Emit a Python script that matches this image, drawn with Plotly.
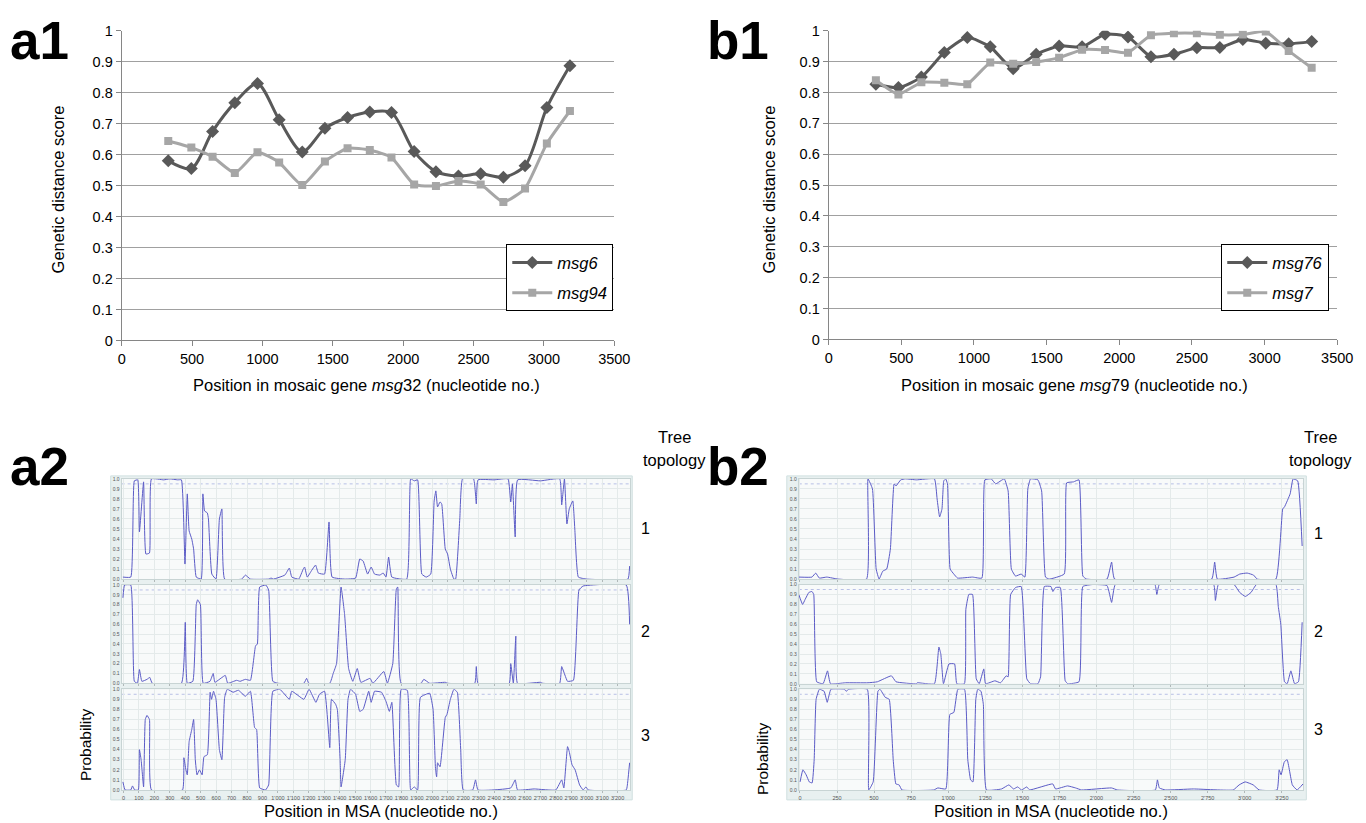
import plotly.graph_objects as go

W, H = 1366, 823
S = 1.012  # small global position correction

# ---------------- data: top charts ----------------
A1_X = [331, 495, 646, 804, 965, 1119, 1283, 1444, 1605, 1763, 1917, 2078, 2233, 2393, 2551, 2712, 2866, 3021, 3185]
A1_MSG6 = [0.580, 0.555, 0.675, 0.768, 0.830, 0.713, 0.609, 0.685, 0.720, 0.738, 0.736, 0.610, 0.545, 0.531, 0.538, 0.527, 0.564, 0.752, 0.887]
A1_MSG94 = [0.644, 0.623, 0.593, 0.541, 0.608, 0.575, 0.502, 0.578, 0.621, 0.615, 0.591, 0.504, 0.499, 0.515, 0.504, 0.447, 0.491, 0.636, 0.741]

B1_X = [325, 480, 638, 796, 954, 1112, 1270, 1428, 1586, 1744, 1902, 2060, 2218, 2376, 2534, 2692, 2850, 3008, 3166, 3324]
B1_MSG76 = [0.827, 0.816, 0.850, 0.930, 0.978, 0.948, 0.877, 0.924, 0.951, 0.948, 0.989, 0.980, 0.916, 0.924, 0.945, 0.946, 0.972, 0.960, 0.958, 0.965]
B1_MSG7 = [0.840, 0.794, 0.833, 0.832, 0.827, 0.897, 0.893, 0.899, 0.913, 0.939, 0.938, 0.929, 0.986, 0.992, 0.992, 0.987, 0.988, 0.998, 0.935, 0.880]

Y_TICKS_TOP = [0, 0.1, 0.2, 0.3, 0.4, 0.5, 0.6, 0.7, 0.8, 0.9, 1]
X_TICKS_TOP = [0, 500, 1000, 1500, 2000, 2500, 3000, 3500]

# ---------------- data: probability panels (x, y) ----------------
A2_T1 = [(-4,0.02),(47,0.02),(70,0.98),(92,0.99),(103,0.47),(130,0.97),(145,0.25),(168,0.26),(181,1.0),(260,0.99),(300,1.0),(350,0.99),(375,0.99),(398,0.15),(413,0.85),(425,0.48),(442,0.40),(454,0.30),(471,0.02),(503,0.0),(514,0.85),(525,0.68),(543,0.66),(550,0.60),(572,0.05),(599,0.0),(621,0.60),(637,0.70),(655,0.0),(766,0.0),(789,0.04),(822,0.0),(940,0.0),(956,0.01),(970,0.0),(1045,0.04),(1074,0.11),(1090,0.02),(1135,0.0),(1164,0.10),(1173,0.12),(1190,0.02),(1220,0.09),(1244,0.14),(1262,0.06),(1302,0.05),(1331,0.57),(1351,0.02),(1436,0.0),(1503,0.01),(1530,0.20),(1552,0.18),(1581,0.05),(1604,0.12),(1626,0.05),(1660,0.04),(1682,0.06),(1700,0.02),(1717,0.22),(1738,0.02),(1834,0.0),(1860,1.0),(1883,0.98),(1905,0.99),(1932,0.05),(1961,0.02),(1990,0.05),(2012,0.78),(2023,0.88),(2034,0.72),(2050,0.77),(2061,0.75),(2084,0.30),(2099,0.25),(2117,0.10),(2140,0.0),(2151,0.0),(2178,0.60),(2196,1.0),(2267,1.0),(2285,0.75),(2296,0.99),(2400,0.99),(2490,1.0),(2508,0.77),(2519,0.95),(2537,0.42),(2553,0.99),(2700,0.98),(2825,1.0),(2838,0.74),(2856,1.0),(2872,0.55),(2887,0.70),(2910,0.78),(2923,0.50),(2946,0.02),(3000,0.0),(3267,0.0),(3278,0.13)]
A2_T2 = [(-4,0.87),(7,1.0),(47,1.0),(70,0.02),(90,0.0),(103,0.14),(119,0.02),(152,0.04),(170,0.06),(186,0.0),(375,0.0),(400,0.62),(413,0.0),(449,0.02),(471,0.80),(480,0.85),(498,0.80),(516,0.0),(560,0.02),(581,0.10),(592,0.01),(659,0.08),(675,0.0),(733,0.03),(755,0.02),(789,0.04),(822,0.03),(855,0.38),(867,0.40),(882,0.98),(922,1.0),(940,0.95),(967,0.02),(1000,0.0),(1168,0.0),(1186,0.05),(1200,0.0),(1336,0.0),(1358,0.10),(1380,0.20),(1409,0.98),(1432,0.70),(1458,0.15),(1485,0.02),(1514,0.15),(1537,0.01),(1597,0.05),(1615,0.0),(1686,0.12),(1709,0.0),(1744,0.20),(1767,0.96),(1776,0.98),(1798,0.0),(1927,0.0),(1945,0.04),(1983,0.0),(2084,0.01),(2100,0.0),(2275,0.0),(2285,0.17),(2296,0.0),(2498,0.0),(2508,0.20),(2525,0.0),(2541,0.48),(2552,0.0),(2700,0.01),(2715,0.0),(2825,0.0),(2838,0.17),(2876,0.02),(2914,0.03),(2950,0.95),(2977,0.99),(3256,1.0),(3278,0.60)]
A2_T3 = [(-4,0.08),(10,0.0),(47,0.0),(58,0.04),(72,0.0),(96,0.0),(103,0.40),(114,0.30),(130,0.03),(141,0.70),(152,0.74),(168,0.70),(181,0.0),(382,0.0),(391,0.32),(404,0.20),(413,0.15),(425,0.48),(442,0.60),(454,0.70),(465,0.30),(476,0.15),(492,0.20),(509,0.15),(521,0.33),(543,0.35),(561,0.97),(570,0.90),(583,0.98),(599,0.90),(621,0.40),(637,0.30),(655,0.92),(672,1.0),(710,0.97),(744,0.99),(789,0.93),(822,0.98),(849,0.62),(862,0.60),(882,0.02),(920,0.0),(940,0.05),(967,0.98),(1012,1.0),(1074,0.90),(1090,0.98),(1168,0.90),(1202,1.0),(1246,0.87),(1269,0.95),(1302,0.98),(1336,0.42),(1347,0.90),(1374,0.85),(1385,0.80),(1403,0.30),(1409,0.03),(1436,0.30),(1454,0.90),(1470,1.0),(1503,0.95),(1530,0.78),(1552,0.80),(1588,0.98),(1604,0.87),(1626,0.98),(1671,0.97),(1700,0.88),(1722,0.78),(1738,0.87),(1767,0.05),(1782,0.03),(1798,1.0),(1838,0.99),(1860,0.0),(1883,0.03),(1905,0.0),(1923,0.92),(1983,0.96),(2005,0.80),(2021,0.20),(2028,0.13),(2034,0.27),(2050,0.23),(2084,0.72),(2095,0.75),(2117,0.90),(2140,1.0),(2162,0.97),(2184,0.40),(2200,0.0),(2262,0.0),(2280,0.10),(2296,0.0),(2508,0.02),(2537,0.10),(2552,0.0),(2660,0.01),(2800,0.0),(2838,0.10),(2852,0.02),(2876,0.43),(2887,0.38),(2905,0.25),(2925,0.20),(2954,0.05),(2977,0.0),(2995,0.03),(3010,0.0),(3256,0.0),(3267,0.10),(3278,0.27)]

B2_T1 = [(-8,0.02),(81,0.02),(106,0.06),(131,0.01),(181,0.02),(257,0.0),(449,0.0),(459,1.0),(489,0.90),(514,0.10),(534,0.0),(559,0.08),(585,0.10),(610,0.30),(635,0.95),(648,0.93),(680,0.99),(711,1.0),(786,0.99),(907,1.0),(925,0.80),(942,0.62),(958,0.70),(970,0.98),(983,1.0),(995,0.95),(1013,0.10),(1038,0.05),(1063,0.01),(1164,0.02),(1227,0.01),(1247,0.99),(1290,1.0),(1320,0.95),(1378,1.0),(1404,0.88),(1426,0.10),(1454,0.03),(1492,0.05),(1517,0.02),(1537,0.90),(1555,1.0),(1605,0.99),(1630,0.88),(1656,0.02),(1681,0.0),(1782,0.05),(1799,0.96),(1845,0.97),(1882,0.99),(1908,0.03),(1933,0.0),(2071,0.0),(2102,0.17),(2122,0.0),(2777,0.0),(2797,0.17),(2815,0.0),(2928,0.02),(2966,0.05),(3016,0.06),(3059,0.04),(3084,0.0),(3210,0.0),(3256,0.70),(3268,0.72),(3306,0.85),(3326,1.0),(3357,0.98),(3387,0.33)]
B2_T2 = [(-8,0.90),(18,0.80),(35,0.85),(60,0.92),(81,0.93),(93,0.90),(113,0.02),(156,0.0),(186,0.13),(206,0.0),(307,0.01),(459,0.01),(522,0.02),(617,0.08),(648,0.02),(786,0.0),(791,0.01),(907,0.0),(937,0.37),(950,0.30),(968,0.0),(1005,0.20),(1043,0.20),(1058,0.0),(1109,0.0),(1119,0.75),(1139,0.90),(1164,0.90),(1189,0.05),(1209,0.0),(1240,0.15),(1252,0.0),(1315,0.03),(1353,0.01),(1391,0.08),(1404,0.07),(1421,0.90),(1454,0.97),(1492,0.98),(1530,0.05),(1555,0.0),(1605,0.0),(1623,0.07),(1648,0.98),(1693,0.98),(1706,0.93),(1724,0.97),(1756,0.97),(1789,0.03),(1807,0.0),(1882,0.02),(1908,0.98),(1971,1.0),(2071,0.99),(2102,0.82),(2127,1.0),(2394,1.0),(2407,0.90),(2424,1.0),(2790,1.0),(2802,0.84),(2822,1.0),(2928,1.0),(2966,0.92),(3004,0.88),(3042,0.92),(3079,1.0),(3210,1.0),(3226,0.78),(3243,0.60),(3268,0.02),(3286,0.0),(3311,0.13),(3336,0.0),(3362,0.02),(3387,0.62)]
B2_T3 = [(1,0.08),(20,0.20),(42,0.15),(63,0.08),(82,0.07),(96,0.30),(109,0.90),(131,1.0),(163,0.98),(184,0.87),(198,0.95),(209,1.0),(300,1.0),(311,0.98),(330,1.0),(454,1.0),(464,0.0),(494,0.08),(526,0.98),(540,1.0),(575,0.92),(602,0.90),(629,0.30),(647,0.06),(669,0.05),(688,0.0),(903,0.0),(930,0.02),(984,0.01),(1011,0.75),(1038,0.77),(1065,1.0),(1110,1.0),(1132,0.30),(1151,0.10),(1167,0.08),(1186,0.90),(1199,1.0),(1221,0.98),(1237,0.85),(1258,0.0),(1360,0.01),(1409,0.05),(1441,0.01),(1468,0.03),(1495,0.0),(1530,0.03),(1549,0.0),(1705,0.06),(1724,0.01),(1805,0.04),(1859,0.02),(1899,0.0),(2101,0.02),(2141,0.0),(2397,0.0),(2411,0.10),(2424,0.02),(2465,0.0),(2653,0.01),(2922,0.0),(2962,0.05),(3003,0.08),(3057,0.05),(3097,0.0),(3218,0.0),(3232,0.20),(3245,0.15),(3267,0.28),(3286,0.30),(3321,0.05),(3353,0.0),(3393,0.06)]

A2_XTICKS = list(range(0, 3201, 100))
B2_XTICKS = list(range(0, 3251, 250))
PROB_YTICKS = [0.0, 0.1, 0.2, 0.3, 0.4, 0.5, 0.6, 0.7, 0.8, 0.9, 1.0]


def fmt_nt(v):
    return f"{v:,}".replace(",", "'")


def px(x):
    return min(1.0, x * S / W)


def py(y):
    return max(0.0, 1 - y * S / H)


fig = go.Figure()

DARK = "#595959"
LIGHT = "#a6a6a6"
FONT = "Liberation Sans, Arial, sans-serif"

fig.add_trace(go.Scatter(x=A1_X, y=A1_MSG6, name="msg6", mode="lines+markers",
                         line=dict(color=DARK, width=3, shape="spline", smoothing=0.8),
                         marker=dict(symbol="diamond", size=10, color=DARK),
                         xaxis="x", yaxis="y", legend="legend", legendgroup="a"))
fig.add_trace(go.Scatter(x=A1_X, y=A1_MSG94, name="msg94", mode="lines+markers",
                         line=dict(color=LIGHT, width=3, shape="spline", smoothing=0.5),
                         marker=dict(symbol="square", size=8, color=LIGHT),
                         xaxis="x", yaxis="y", legend="legend", legendgroup="b"))
fig.add_trace(go.Scatter(x=B1_X, y=B1_MSG76, name="msg76", mode="lines+markers",
                         line=dict(color=DARK, width=3, shape="spline", smoothing=0.6),
                         marker=dict(symbol="diamond", size=10, color=DARK),
                         xaxis="x2", yaxis="y2", legend="legend2", legendgroup="c"))
fig.add_trace(go.Scatter(x=B1_X, y=B1_MSG7, name="msg7", mode="lines+markers",
                         line=dict(color=LIGHT, width=3, shape="spline", smoothing=0.4),
                         marker=dict(symbol="square", size=8, color=LIGHT),
                         xaxis="x2", yaxis="y2", legend="legend2", legendgroup="d"))

PROB_COLOR = "#5b5bc6"
panels = [("x3", "y3", A2_T1), ("x4", "y4", A2_T2), ("x5", "y5", A2_T3),
          ("x6", "y6", B2_T1), ("x7", "y7", B2_T2), ("x8", "y8", B2_T3)]
for xa, ya, pts in panels:
    fig.add_trace(go.Scatter(x=[p[0] for p in pts], y=[p[1] for p in pts], mode="lines",
                             line=dict(color=PROB_COLOR, width=1, shape="spline", smoothing=0.35),
                             showlegend=False, xaxis=xa, yaxis=ya, hoverinfo="skip"))

layout = dict(width=W, height=H, margin=dict(l=0, r=0, t=0, b=0), autosize=False,
              paper_bgcolor="white", plot_bgcolor="rgba(0,0,0,0)",
              font=dict(family=FONT, color="#000"), showlegend=True)


def top_x(dom, anchor):
    return dict(domain=dom, range=[0, 3500], tickvals=X_TICKS_TOP, showgrid=False, zeroline=False,
                showline=True, linecolor="#868686", linewidth=1, ticks="outside", ticklen=5,
                tickcolor="#868686", tickfont=dict(size=14.5, family=FONT), fixedrange=True, anchor=anchor)


def top_y(dom, anchor):
    return dict(domain=dom, range=[0, 1], tickvals=Y_TICKS_TOP, showgrid=True, gridcolor="#a0a0a0",
                gridwidth=1, zeroline=False, showline=True, linecolor="#868686", ticks="outside",
                ticklen=5, tickcolor="#868686", tickfont=dict(size=14.5, family=FONT), anchor=anchor,
                fixedrange=True)

layout["xaxis"] = top_x([px(118), px(612)], "y")
layout["yaxis"] = top_y([py(335), py(23)], "x")
layout["xaxis2"] = top_x([px(827), px(1337)], "y2")
layout["yaxis2"] = top_y([py(334), py(23)], "x2")

a2_rows = [(474.5, 575.5), (581.5, 680.5), (686.5, 788.0)]
b2_rows = [(474.5, 575.5), (581.0, 681.0), (686.5, 788.0)]
shapes = []
for x0, x1 in [(107, 630), (785, 1306)]:
    shapes.append(dict(type="rect", xref="paper", yref="paper", x0=px(x0), x1=px(x1), y0=py(798), y1=py(471.5),
                       fillcolor="#e8f0f0", line=dict(color="#d0e0e0", width=1), layer="below"))

for i in range(6):
    xa = f"xaxis{i + 3}"
    ya = f"yaxis{i + 3}"
    xs = f"x{i + 3}"
    ys = f"y{i + 3}"
    is_a = i < 3
    row = (a2_rows if is_a else b2_rows)[i % 3]
    xdom = [px(118), px(628)] if is_a else [px(797), px(1303)]
    xr = [-12, 3282] if is_a else [-8, 3395]
    ticks = A2_XTICKS if is_a else B2_XTICKS
    bottom = (i % 3 == 2)
    layout[xa] = dict(domain=xdom, range=xr, anchor=ys, tickvals=ticks,
                      ticktext=[fmt_nt(t) for t in ticks] if bottom else ["" for t in ticks],
                      showticklabels=True, tickangle=0, tickfont=dict(size=5.5, color="#555", family=FONT),
                      showgrid=True, gridcolor="#e4eaea", gridwidth=1, zeroline=False,
                      showline=True, linecolor="#c8d4d4", linewidth=1, mirror=True,
                      ticks="outside", ticklen=2, tickcolor="#b0b8b8", fixedrange=True)
    layout[ya] = dict(domain=[py(row[1]), py(row[0])], range=[0, 1.0], anchor=xs, tickvals=PROB_YTICKS,
                      ticktext=[f"{t:.1f}" for t in PROB_YTICKS], tickangle=0,
                      tickfont=dict(size=5, color="#555", family=FONT),
                      showgrid=True, gridcolor="#e4eaea", gridwidth=1, zeroline=False,
                      showline=True, linecolor="#c8d4d4", linewidth=1, mirror=True,
                      ticks="", fixedrange=True)
    shapes.append(dict(type="rect", xref=f"{xs} domain", yref=f"{ys} domain", x0=0, x1=1, y0=0, y1=1,
                       fillcolor="#f8fafa", line=dict(width=0), layer="below"))
    shapes.append(dict(type="line", xref=f"{xs} domain", yref=ys, x0=0, x1=1, y0=0.95, y1=0.95,
                       line=dict(color="#b8c0e6", width=1, dash="dot"), layer="below"))

layout["shapes"] = shapes

legend_common = dict(bgcolor="white", bordercolor="#000", borderwidth=1,
                     font=dict(size=16.5, family=FONT, style="italic"), tracegroupgap=6,
                     xanchor="right", yanchor="top", itemwidth=40)
layout["legend"] = dict(x=px(611), y=py(238), **legend_common)
layout["legend2"] = dict(x=px(1329), y=py(238), **legend_common)

ann = []


def text(x, y, t, size=15, angle=0, bold=False, xanchor="center", family=FONT):
    ann.append(dict(x=px(x), y=py(y), xref="paper", yref="paper", text=(f"<b>{t}</b>" if bold else t),
                    showarrow=False, textangle=angle, xanchor=xanchor, yanchor="middle",
                    font=dict(size=size, family=family, color="#000")))

BIG = "Liberation Sans, Arial, sans-serif"
text(4, 33, "a1", 53, bold=True, xanchor="left", family=BIG)
text(703, 33, "b1", 53, bold=True, xanchor="left", family=BIG)
text(4, 462, "a2", 53, bold=True, xanchor="left", family=BIG)
text(703, 462, "b2", 53, bold=True, xanchor="left", family=BIG)

text(54, 183, "Genetic distance score", 16.5, angle=-90)
text(767, 183, "Genetic distance score", 16.5, angle=-90)
text(364, 380, "Position in mosaic gene <i>msg</i>32 (nucleotide no.)", 16.5)
text(1074, 380, "Position in mosaic gene <i>msg</i>79 (nucleotide no.)", 16.5)

text(672, 432, "Tree", 16.5)
text(672, 455, "topology", 16.5)
text(1320, 432, "Tree", 16.5)
text(1320, 455, "topology", 16.5)
for lbl, y in zip(["1", "2", "3"], [525, 628, 733]):
    text(643, y, lbl, 16)
for lbl, y in zip(["1", "2", "3"], [530, 628, 727]):
    text(1318, y, lbl, 16)
text(82, 742, "Probability", 15.5, angle=-90)
text(760, 756, "Probability", 15.5, angle=-90)
text(378, 809, "Position in MSA (nucleotide no.)", 16.5)
text(1050, 809, "Position in MSA (nucleotide no.)", 16.5)

layout["annotations"] = ann
fig.update_layout(**layout)
fig.write_html("out.html", config={"displayModeBar": False},
               post_script="document.body.style.margin='0';document.body.style.overflow='hidden';")
